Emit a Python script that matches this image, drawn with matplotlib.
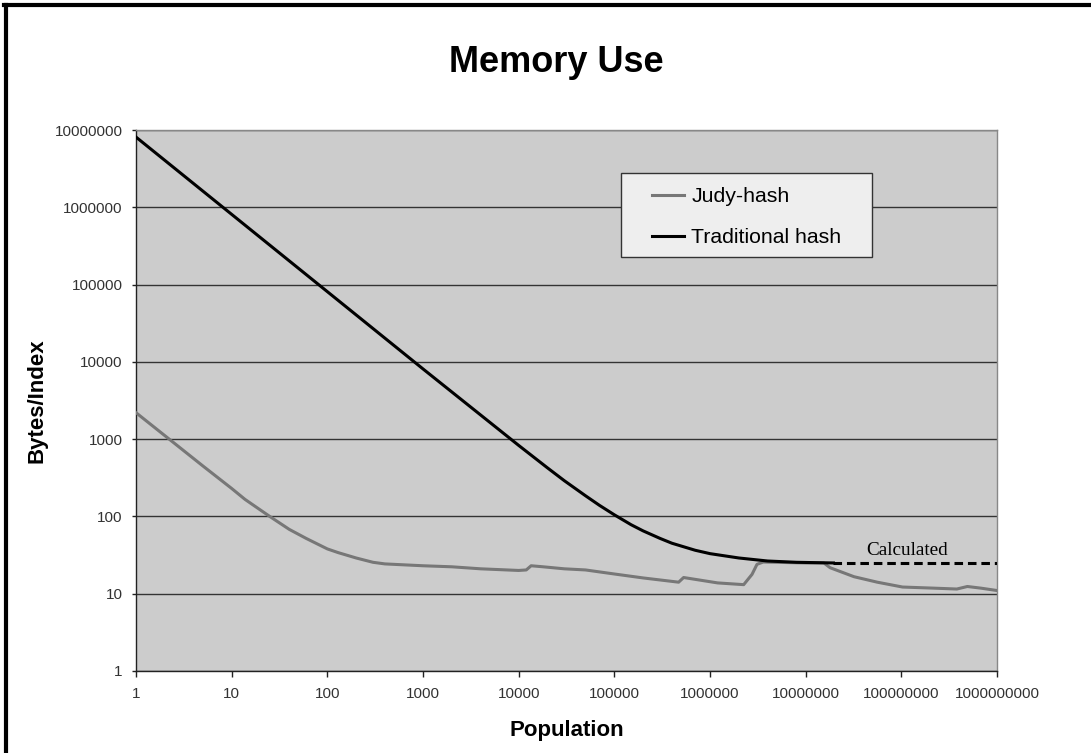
import matplotlib
matplotlib.use('Agg')
import matplotlib.pyplot as plt
from matplotlib.lines import Line2D
from matplotlib.patches import Rectangle
from matplotlib.ticker import FixedLocator, NullLocator

# values
judy_x = [1, 5, 10, 13.8, 25, 40, 60, 100, 130, 200, 300, 400, 1000, 2000, 4000,
          1e4, 1.2e4, 1.35e4, 1.8e4, 3e4, 5e4, 1e5, 2e5, 4.7e5, 5.3e5, 1.2e6,
          2.25e6, 2.75e6, 3.1e6, 3.6e6, 1e7, 1.55e7, 1.8e7, 3.2e7, 5.6e7,
          1.03e8, 2.2e8, 3.8e8, 4.9e8, 6.8e8, 1e9]
judy_y = [2200, 450, 230, 166, 100, 68, 52, 38, 34, 29, 25.5, 24.3, 23, 22.3, 21,
          20, 20.3, 23, 22.3, 21, 20.3, 18, 16, 14.1, 16.2, 13.8,
          13.1, 17.8, 24, 25.7, 25, 25, 21.7, 16.6, 14.1,
          12.2, 11.8, 11.5, 12.4, 11.8, 11]

trad_x = [1, 10, 100, 1e3, 1e4, 2e4, 3e4, 5e4, 7e4, 1e5, 1.5e5, 2e5, 3e5, 4e5,
          7e5, 1e6, 2e6, 4e6, 8e6, 1.95e7]
trad_y = [8.1e6, 8.1e5, 8.1e4, 8100, 830, 425, 290, 185, 139, 105, 78, 65, 52, 45,
          36.5, 33, 29, 26.5, 25.5, 25]

calc_x = [1.95e7, 1e9]
calc_y = [25, 25]

x_ticks = [1, 10, 100, 1e3, 1e4, 1e5, 1e6, 1e7, 1e8, 1e9]
x_labels = ['1', '10', '100', '1000', '10000', '100000', '1000000',
            '10000000', '100000000', '1000000000']
y_ticks = [1, 10, 100, 1e3, 1e4, 1e5, 1e6, 1e7]
y_labels = ['1', '10', '100', '1000', '10000', '100000', '1000000', '10000000']

plt.rcParams['font.family'] = ['Liberation Sans', 'DejaVu Sans']

W, H = 1091, 753
fig = plt.figure(figsize=(W / 100, H / 100), dpi=100)
ax = fig.add_axes([136 / W, 1 - 671 / H, (997 - 136) / W, (671 - 130) / H])
ax.set_facecolor('#cccccc')

ax.set_xscale('log')
ax.set_yscale('log')
ax.set_xlim(1, 1e9)
ax.set_ylim(1, 1e7)

ax.plot(judy_x, judy_y, color='#777777', lw=2.2, label='Judy-hash', zorder=3)
ax.plot(trad_x, trad_y, color='black', lw=2.2, label='Traditional hash', zorder=4)
ax.plot(calc_x, calc_y, color='black', lw=2.2, dashes=(2.8, 1.6), zorder=4)

ax.text(1.16e8, 28.3, 'Calculated', family='Liberation Serif', fontsize=13.8,
        ha='center', va='bottom')

ax.xaxis.set_major_locator(FixedLocator(x_ticks))
ax.set_xticklabels(x_labels)
ax.yaxis.set_major_locator(FixedLocator(y_ticks))
ax.set_yticklabels(y_labels)
ax.xaxis.set_minor_locator(NullLocator())
ax.yaxis.set_minor_locator(NullLocator())
ax.tick_params(axis='x', direction='out', length=4.5, width=1, color='#222222',
               labelsize=11, labelcolor='#333333', pad=7)
ax.tick_params(axis='y', direction='out', length=3, width=1, color='#222222',
               labelsize=11, labelcolor='#333333', pad=6.5)

ax.grid(axis='y', which='major', color='#333333', lw=1)
ax.set_axisbelow(True)
for side in ['left', 'bottom']:
    ax.spines[side].set_color('#222222')
    ax.spines[side].set_linewidth(1)
for side in ['top', 'right']:
    ax.spines[side].set_color('#888888')
    ax.spines[side].set_linewidth(1)

ax.set_xlabel('Population', fontsize=16, fontweight='bold', labelpad=14)
ax.set_ylabel('Bytes/Index', fontsize=16, fontweight='bold', labelpad=5)

# legend box drawn separately so its padding matches the reference
box = Rectangle((0.563, 0.765), 0.292, 0.156, transform=ax.transAxes,
                facecolor='#eeeeee', edgecolor='#333333', lw=1, zorder=5)
ax.add_patch(box)
leg = ax.legend(loc='upper left', bbox_to_anchor=(0.5993, 0.894), fontsize=15.3,
                frameon=False, handlelength=1.5, handletextpad=0.35,
                labelspacing=1.04, borderpad=0, borderaxespad=0)
leg.set_zorder(6)

fig.text(556 / W, 1 - 62 / H, 'Memory Use', fontsize=26, fontweight='bold',
         ha='center', va='center')

# black border on the left and top edges
fig.add_artist(Line2D([6 / W, 6 / W], [0, 1 - 4.5 / H], color='black', lw=3,
                      transform=fig.transFigure))
fig.add_artist(Line2D([4 / W, 1], [1 - 4.5 / H, 1 - 4.5 / H], color='black', lw=3,
                      transform=fig.transFigure))

fig.savefig('out.png', dpi=100)
